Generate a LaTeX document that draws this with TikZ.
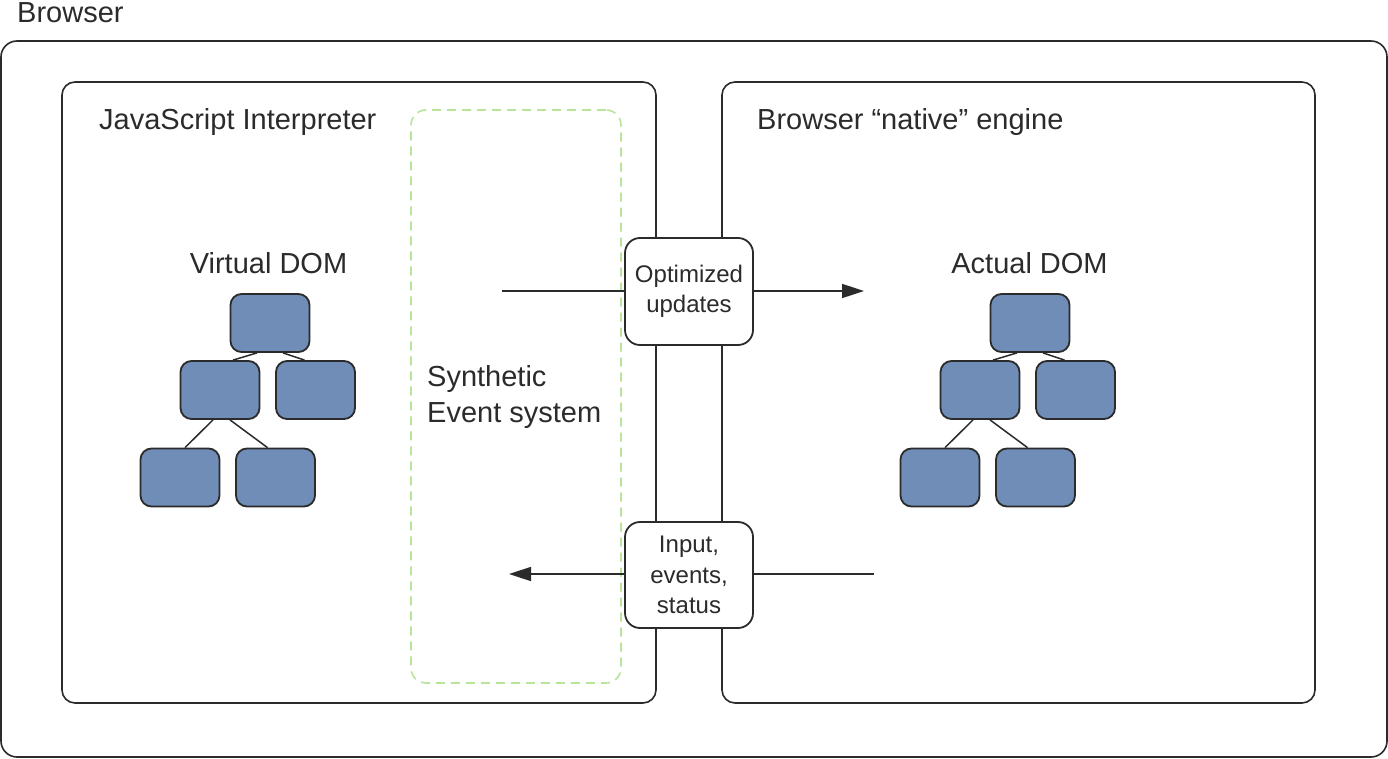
\documentclass[tikz,border=0pt]{standalone}
\usepackage{fontspec}
\setmainfont{Liberation Sans}
\usetikzlibrary{arrows.meta}
\definecolor{ink}{HTML}{2B2B2B}
\definecolor{domfill}{HTML}{6F8DB6}
\definecolor{greendash}{HTML}{B8E59A}
\tikzset{
  frame/.style={draw=ink, line width=1.6pt, rounded corners=#1, inner sep=0, fill=white},
  dombox/.style={draw=ink, line width=1.8pt, fill=domfill, rounded corners=11pt, minimum width=79pt, minimum height=58pt, inner sep=0},
  link/.style={draw=ink, line width=1.5pt},
  flowbox/.style={draw=ink, line width=1.8pt, fill=white, rounded corners=15pt, minimum width=128pt, inner sep=0, align=center, font=\fontsize{24}{30.5}\selectfont, text=ink},
  flow/.style={draw=ink, line width=1.6pt},
  flowarrow/.style={flow, -{Triangle[length=22pt,width=14pt]}},
  bigtext/.style={inner sep=0, anchor=base west, font=\fontsize{29}{36}\selectfont, text=ink},
  synth/.style={draw=greendash, line width=1.6pt, dash pattern=on 9pt off 6pt, rounded corners=15pt, inner sep=0}
}
\begin{document}
\begin{tikzpicture}[x=1pt,y=-1pt]
\useasboundingbox (0,0) rectangle (1388,759);
% frames
\node[frame=16pt, minimum width=1386pt, minimum height=716pt] (browser) at (694,399) {};
\node[frame=13pt, minimum width=594pt, minimum height=621pt] (js) at (359,392.5) {};
\node[frame=13pt, minimum width=593pt, minimum height=621pt] (native) at (1018.5,392.5) {};
\node[synth, minimum width=210pt, minimum height=573pt] (synthbox) at (516,396.5) {};
% labels
\node[bigtext] (lbrowser) at (17,23) {Browser};
\node[bigtext] (ljs) at (99,130) {JavaScript Interpreter};
\node[bigtext] (lnative) at (757,130) {Browser “native” engine};
\node[bigtext, anchor=base] (lvdom) at (268.5,273) {Virtual DOM};
\node[bigtext, anchor=base] (ladom) at (1029.5,273) {Actual DOM};
\node[bigtext] (lsyn1) at (427,386) {Synthetic};
\node[bigtext] (lsyn2) at (427,422) {Event system};
% virtual DOM tree
\node[dombox] (vt) at (270,323) {};
\node[dombox] (vml) at (220,390) {};
\node[dombox] (vmr) at (315.5,390) {};
\node[dombox] (vbl) at (180,477.5) {};
\node[dombox] (vbr) at (275.5,477.5) {};
\draw[link] ([xshift=-13pt]vt.south) -- ([xshift=13pt]vml.north);
\draw[link] ([xshift=13pt]vt.south) -- ([xshift=-11pt]vmr.north);
\draw[link] ([xshift=-7pt]vml.south) -- ([xshift=5pt]vbl.north);
\draw[link] ([xshift=10pt]vml.south) -- ([xshift=-8pt]vbr.north);
% actual DOM tree
\node[dombox] (at) at (1030,323) {};
\node[dombox] (aml) at (980,390) {};
\node[dombox] (amr) at (1075.5,390) {};
\node[dombox] (abl) at (940,477.5) {};
\node[dombox] (abr) at (1035.5,477.5) {};
\draw[link] ([xshift=-13pt]at.south) -- ([xshift=13pt]aml.north);
\draw[link] ([xshift=13pt]at.south) -- ([xshift=-11pt]amr.north);
\draw[link] ([xshift=-7pt]aml.south) -- ([xshift=5pt]abl.north);
\draw[link] ([xshift=10pt]aml.south) -- ([xshift=-8pt]abr.north);
% flow boxes
\node[flowbox, minimum height=107pt] (opt) at (689,291.5) {Optimized\\updates};
\node[flowbox, minimum height=106pt] (inp) at (689,575) {Input,\\events,\\status};
\coordinate (optin) at (502,291);
\coordinate (optout) at (864,291);
\coordinate (inpin) at (874,574);
\coordinate (inpout) at (509,574);
\draw[flow] (optin) -- (optin -| opt.west);
\draw[flowarrow] (optout -| opt.east) -- (optout);
\draw[flow] (inpin) -- (inpin -| inp.east);
\draw[flowarrow] (inpout -| inp.west) -- (inpout);
\end{tikzpicture}
\end{document}
